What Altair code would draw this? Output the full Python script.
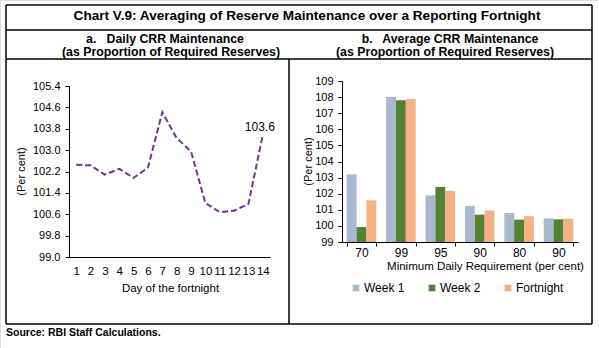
import json
import altair as alt
import pandas as pd

FONT = "Liberation Sans"

# ---- Panel a: daily CRR maintenance ----
days = list(range(1, 15))
daily_crr = [102.45, 102.43, 102.08, 102.30, 101.96, 102.35, 104.42,
             103.45, 102.95, 101.02, 100.68, 100.73, 100.99, 103.57]
left_ticks = [99.0, 99.8, 100.6, 101.4, 102.2, 103.0, 103.8, 104.6, 105.4]

# ---- Panel b: average CRR maintenance ----
requirements = ["70", "99", "95", "90", "80", "90"]
series_names = ["Week 1", "Week 2", "Fortnight"]
week1 = [103.2, 108.0, 101.9, 101.24, 100.8, 100.47]
week2 = [99.93, 107.8, 102.42, 100.7, 100.39, 100.41]
fortnight = [101.59, 107.88, 102.17, 100.95, 100.6, 100.45]
right_ticks = list(range(99, 110))
colors = ["#A9B8CE", "#548235", "#F4B183"]

df_line = pd.DataFrame({"day": days, "crr": daily_crr})
rows = []
for i in range(len(requirements)):
    for name, vals in zip(series_names, [week1, week2, fortnight]):
        rows.append({"pos": i, "series": name, "val": vals[i]})
df_bar = pd.DataFrame(rows)

one = alt.InlineData(values=[{"k": 0}])

common_axis = dict(labelFont=FONT, titleFont=FONT, labelColor="black", titleColor="black",
                   titleFontWeight="normal", domainColor="black", tickColor="black", grid=False)

# Left panel
xl = alt.X("day:O", scale=alt.Scale(type="point", range=[69, 270], padding=0.5),
           axis=alt.Axis(orient="bottom", offset=-91, labelAngle=0, ticks=False, tickSize=0,
                         labelPadding=8, labelFontSize=11.5,
                         title="Day of the fortnight", titleX=170, titleY=31,
                         titleBaseline="middle", titleFontSize=11.5, **common_axis))
yl = alt.Y("crr:Q", scale=alt.Scale(domain=[99, 105.4], range=[257, 86], zero=False, nice=False),
           axis=alt.Axis(orient="left", offset=-69, values=left_ticks, format=".1f",
                         tickSize=4, labelPadding=5, labelFontSize=11,
                         title="(Per cent)", titleX=-48, titleY=171,
                         titleBaseline="middle", titleFontSize=11, **common_axis))
line = alt.Chart(df_line).mark_line(color="#7030A0", strokeWidth=2, strokeDash=[6, 3]).encode(x=xl, y=yl)
label = alt.Chart(df_line).transform_filter(alt.datum.day == 14).mark_text(
    font=FONT, fontSize=12, color="black", dx=-3, dy=-8, baseline="middle"
).encode(x=xl, y=yl, text=alt.Text("crr:Q", format=".1f"))
left = alt.layer(line, label)

# Right panel
label_expr = json.dumps(requirements) + "[datum.value]"
xr = alt.X("pos:O", scale=alt.Scale(type="band", range=[342, 578], paddingInner=0.25, paddingOuter=0.12),
           axis=alt.Axis(orient="bottom", offset=-106, labelAngle=0, labelExpr=label_expr,
                         tickBand="extent", tickSize=4, labelPadding=1, labelFontSize=12,
                         title="Minimum Daily Requirement (per cent)", titleX=485, titleY=24,
                         titleBaseline="middle", titleFontSize=11.5, **common_axis))
yr = alt.Y("val:Q", scale=alt.Scale(domain=[99, 109], range=[242, 81], zero=False, nice=False),
           axis=alt.Axis(orient="left", offset=-342, values=right_ticks, tickSize=4,
                         labelPadding=5, labelFontSize=11,
                         title="(Per cent)", titleX=-34, titleY=161, titleBaseline="middle",
                         titleFontSize=11, **common_axis))
bars = alt.Chart(df_bar).mark_bar().encode(
    x=xr,
    xOffset=alt.XOffset("series:N", sort=series_names, scale=alt.Scale(paddingInner=0, paddingOuter=0)),
    y=yr,
    y2=alt.datum(99),
    color=alt.Color("series:N", sort=series_names,
                    scale=alt.Scale(domain=series_names, range=colors),
                    legend=alt.Legend(orient="none", legendX=350, legendY=282, direction="horizontal",
                                      title=None, symbolType="square", symbolSize=45,
                                      symbolStrokeWidth=0, labelFont=FONT, labelFontSize=12,
                                      labelColor="black", columnPadding=21, labelOffset=2, padding=0)),
)

# Frame and captions
def hrule(y, x1, x2):
    return alt.Chart(one).mark_rule(color="black", strokeWidth=1.5).encode(
        x=alt.value(x1), x2=alt.value(x2), y=alt.value(y))

def vrule(x, y1, y2):
    return alt.Chart(one).mark_rule(color="black", strokeWidth=1.5).encode(
        x=alt.value(x), y=alt.value(y1), y2=alt.value(y2))

def txt(s, x, y, size, align="center", weight="bold"):
    return alt.Chart(one).mark_text(font=FONT, fontSize=size, fontWeight=weight, align=align,
                                    baseline="middle", color="black").encode(
        x=alt.value(x), y=alt.value(y), text=alt.value(s))

decor = [
    hrule(5, 6, 592), hrule(30, 6, 592), hrule(59, 6, 592), hrule(324, 6, 592),
    vrule(6, 5, 324), vrule(592, 5, 324), vrule(289, 59, 324),
    txt("Chart V.9: Averaging of Reserve Maintenance over a Reporting Fortnight", 307, 16, 13.6),
    txt("a.\u00a0\u00a0 Daily CRR Maintenance", 165, 39, 12.3),
    txt("(as Proportion of Required Reserves)", 171, 52, 12.3),
    txt("b.\u00a0\u00a0 Average CRR Maintenance", 450, 39, 12.3),
    txt("(as Proportion of Required Reserves)", 445, 52, 12.3),
    txt("Source: RBI Staff Calculations.", 6, 333, 10.5, align="left"),
]

chart = alt.layer(left, bars, *decor).resolve_scale(
    x="independent", y="independent"
).properties(
    width=599, height=348, autosize=alt.AutoSizeParams(type="none"), padding=0
).configure_view(stroke=None).configure(background="white")

chart.save("out.html", embed_options={"renderer": "svg", "actions": False})
